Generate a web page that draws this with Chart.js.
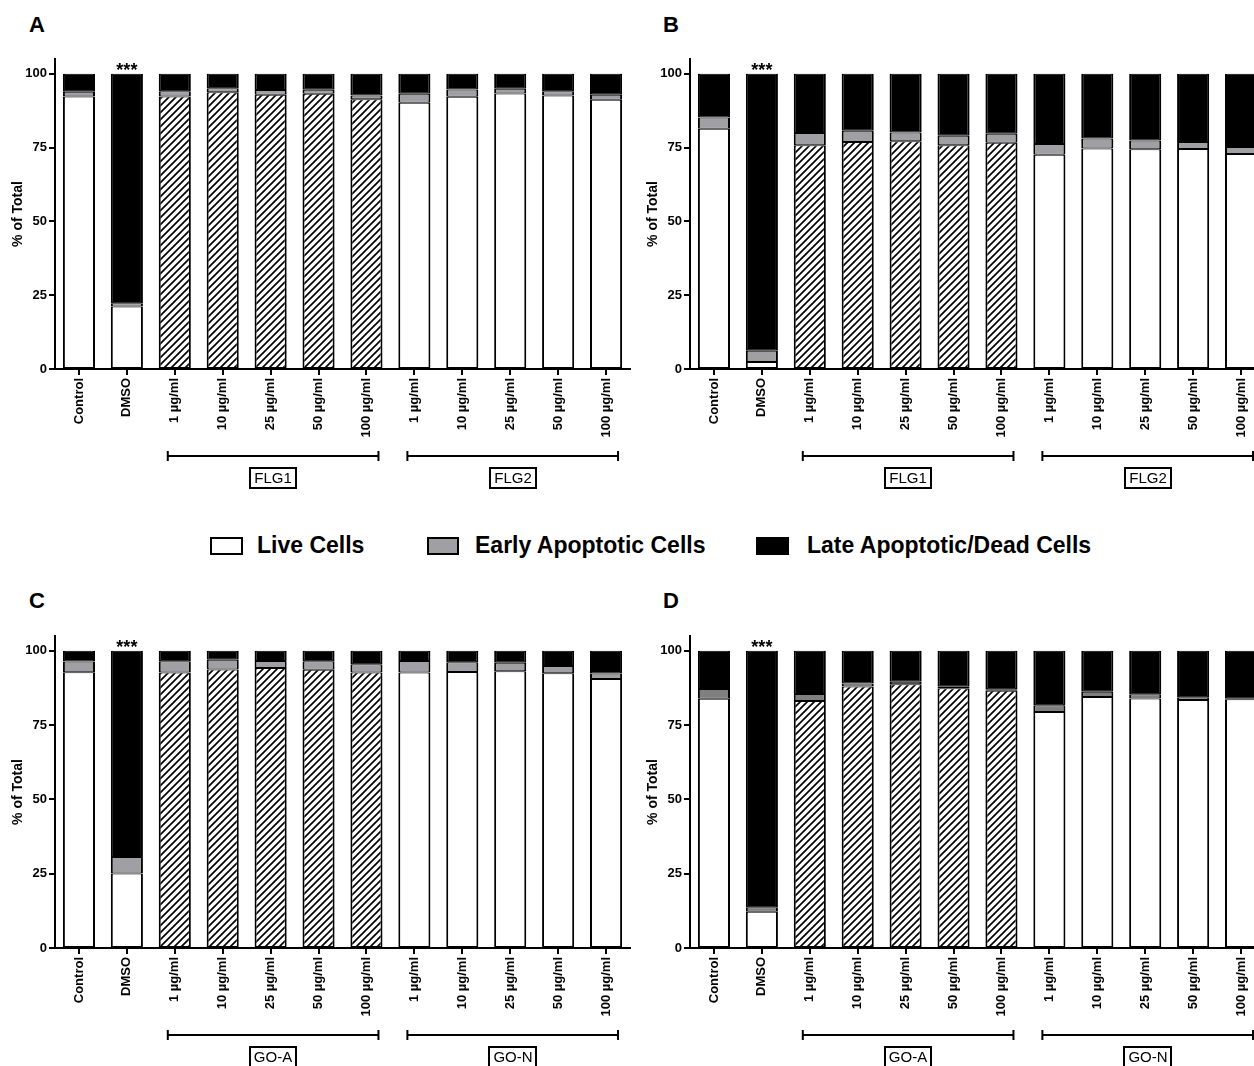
<!DOCTYPE html>
<html>
<head>
<meta charset="utf-8">
<script src="https://cdn.jsdelivr.net/npm/chart.js@4.4.1/dist/chart.umd.min.js"></script>
<style>
  html, body { margin: 0; padding: 0; background: #fff; }
  #page { position: relative; width: 1254px; height: 1066px; overflow: hidden;
          font-family: "Liberation Sans", Arial, sans-serif; color: #000; }
  #page canvas { position: absolute; }
  .letter { position: absolute; font-weight: bold; font-size: 22px; line-height: 22px; }
  .swatch { position: absolute; box-sizing: border-box; border: 2px solid #000; height: 18px; }
  .legend-text { position: absolute; font-weight: bold; font-size: 23px; line-height: 23px; white-space: nowrap; }
</style>
</head>
<body>
<div id="page">
  <div class="letter" style="left:29px; top:14px;">A</div>
  <div class="letter" style="left:663px; top:14px;">B</div>
  <div class="letter" style="left:29px; top:590px;">C</div>
  <div class="letter" style="left:663px; top:590px;">D</div>

  <div class="swatch" style="left:210px; top:537px; width:33px; background:#fff;"></div>
  <div class="legend-text" style="left:257px; top:534px;">Live Cells</div>
  <div class="swatch" style="left:427px; top:537px; width:32px; background:#a0a0a4;"></div>
  <div class="legend-text" style="left:475px; top:534px;">Early Apoptotic Cells</div>
  <div class="swatch" style="left:756px; top:537px; width:33px; background:#000;"></div>
  <div class="legend-text" style="left:807px; top:534px;">Late Apoptotic/Dead Cells</div>

  <canvas id="chartA" width="640" height="500" style="left:0px; top:0px;"></canvas>
  <canvas id="chartB" width="640" height="500" style="left:640px; top:0px;"></canvas>
  <canvas id="chartC" width="640" height="491" style="left:0px; top:575px;"></canvas>
  <canvas id="chartD" width="640" height="491" style="left:640px; top:575px;"></canvas>
</div>

<script>
// Treatment categories shared by all four panels
const categories = ['Control', 'DMSO',
  '1 µg/ml', '10 µg/ml', '25 µg/ml', '50 µg/ml', '100 µg/ml',
  '1 µg/ml', '10 µg/ml', '25 µg/ml', '50 µg/ml', '100 µg/ml'];
const hatchedIndices = [2, 3, 4, 5, 6];
const yTicks = [0, 25, 50, 75, 100];
const grapheneGroups = ['FLG1', 'FLG2'];
const oxideGroups = ['GO-A', 'GO-N'];
const seriesNames = ['Live Cells', 'Early Apoptotic Cells', 'Late Apoptotic/Dead Cells'];

// Panel A (% of total)
const liveA  = [92.3, 21.2, 92.3, 93.7, 92.9, 93.2, 91.4, 90.2, 92.2, 93.3, 92.6, 91.2];
const earlyA = [1.6, 1.1, 1.8, 1.4, 1.6, 1.4, 1.2, 3.0, 2.5, 1.6, 1.5, 1.7];
const lateA  = [6.1, 77.7, 5.9, 4.9, 5.5, 5.4, 7.4, 6.8, 5.3, 5.1, 5.9, 7.1];

// Panel B
const liveB  = [81.4, 2.4, 75.8, 76.9, 77.1, 75.8, 76.6, 72.6, 74.7, 74.4, 74.5, 72.8];
const earlyB = [3.8, 3.8, 4.1, 3.8, 3.0, 3.2, 3.1, 3.6, 3.4, 3.0, 2.4, 2.4];
const lateB  = [14.8, 93.8, 20.1, 19.3, 19.9, 21.0, 20.3, 23.8, 21.9, 22.6, 23.1, 24.8];

// Panel C
const liveC  = [92.8, 25.1, 92.7, 93.7, 94.2, 93.6, 92.7, 92.7, 92.9, 93.1, 92.5, 90.5];
const earlyC = [3.6, 5.5, 3.8, 3.3, 2.4, 2.9, 2.8, 3.9, 3.3, 2.9, 2.4, 1.9];
const lateC  = [3.6, 69.4, 3.5, 3.0, 3.4, 3.5, 4.5, 3.4, 3.8, 4.0, 5.1, 7.6];

// Panel D
const liveD  = [83.9, 12.2, 83.1, 88.0, 88.8, 87.4, 86.6, 79.4, 84.5, 84.0, 83.5, 83.7];
const earlyD = [3.3, 1.5, 2.4, 1.0, 0.8, 0.5, 0.5, 2.3, 1.7, 1.4, 0.9, 0.2];
const lateD  = [12.8, 86.3, 14.5, 11.0, 10.4, 12.1, 12.9, 18.3, 13.8, 14.6, 15.6, 16.1];

const FONT = '"Liberation Sans", Arial, sans-serif';
Chart.defaults.font.family = FONT;
Chart.defaults.color = '#000';

// Diagonal "/" hatch used for the first nanomaterial group
function makeHatch() {
  const s = 7;
  const c = document.createElement('canvas');
  c.width = s; c.height = s;
  const g = c.getContext('2d');
  g.fillStyle = '#fff';
  g.fillRect(0, 0, s, s);
  g.strokeStyle = '#000';
  g.lineWidth = 1.7;
  g.beginPath();
  g.moveTo(-1, s + 1); g.lineTo(s + 1, -1);
  g.moveTo(-1, 1); g.lineTo(1, -1);
  g.moveTo(s - 1, s + 1); g.lineTo(s + 1, s - 1);
  g.stroke();
  return g.createPattern(c, 'repeat');
}
const hatch = makeHatch();

// Extra drawing: y title, significance stars, group brackets with boxed names
const panelExtras = {
  id: 'panelExtras',
  afterDraw(chart, args, opts) {
    const ctx = chart.ctx;
    const area = chart.chartArea;
    const xs = chart.scales.x, ys = chart.scales.y;
    ctx.save();
    // y-axis title
    ctx.save();
    ctx.translate(area.left - 37, (area.top + area.bottom) / 2);
    ctx.rotate(-Math.PI / 2);
    ctx.font = 'bold 14px ' + FONT;
    ctx.fillStyle = '#000';
    ctx.textAlign = 'center';
    ctx.textBaseline = 'middle';
    ctx.fillText('% of Total', 0, 0);
    ctx.restore();

    // significance stars
    ctx.font = 'bold 18px ' + FONT;
    ctx.textAlign = 'center';
    ctx.textBaseline = 'alphabetic';
    ctx.fillText('***', xs.getPixelForValue(opts.starIndex), ys.getPixelForValue(100) + 2);

    // group brackets
    const by = area.bottom + 87;
    opts.groups.forEach((g) => {
      const x0 = xs.getPixelForValue(g.from) - 7;
      const x1 = xs.getPixelForValue(g.to) + 12;
      ctx.strokeStyle = '#000';
      ctx.lineWidth = 2;
      ctx.beginPath();
      ctx.moveTo(x0, by); ctx.lineTo(x1, by);
      ctx.moveTo(x0, by - 5); ctx.lineTo(x0, by + 5);
      ctx.moveTo(x1, by - 5); ctx.lineTo(x1, by + 5);
      ctx.stroke();
      ctx.font = '15px ' + FONT;
      const tw = ctx.measureText(g.name).width;
      const bw = Math.round(tw + 10), bh = 22;
      const cx = Math.round((x0 + x1) / 2);
      const bx = cx - Math.round(bw / 2), btop = by + 11;
      ctx.strokeRect(bx + 1, btop + 1, bw - 2, bh - 2);
      ctx.textAlign = 'center';
      ctx.textBaseline = 'middle';
      ctx.fillText(g.name, cx, btop + bh / 2 + 1);
    });
    ctx.restore();
  }
};

function buildPanel(id, live, early, late, grayColor, groupNames, layout) {
  const liveFill = categories.map((_, i) => hatchedIndices.includes(i) ? hatch : '#ffffff');
  const segBorder = { top: 1, bottom: 1, left: 2, right: 2 };
  const common = { borderColor: '#000', borderWidth: segBorder, borderSkipped: false,
                   barPercentage: 0.67, categoryPercentage: 1.0 };
  return new Chart(document.getElementById(id), {
    type: 'bar',
    data: {
      labels: categories,
      datasets: [
        Object.assign({ label: seriesNames[0], data: live, backgroundColor: liveFill }, common),
        Object.assign({ label: seriesNames[1], data: early, backgroundColor: grayColor }, common),
        Object.assign({ label: seriesNames[2], data: late, backgroundColor: '#000' }, common)
      ]
    },
    options: {
      responsive: false,
      animation: false,
      devicePixelRatio: 1,
      layout: { padding: { top: layout.top, right: layout.right, bottom: layout.bottom, left: 0 } },
      plugins: {
        legend: { display: false },
        tooltip: { enabled: false },
        panelExtras: {
          starIndex: 1,
          groups: [
            { name: groupNames[0], from: 2, to: 6 },
            { name: groupNames[1], from: 7, to: 11 }
          ]
        }
      },
      scales: {
        x: {
          stacked: true,
          offset: true,
          grid: { display: true, drawOnChartArea: false, drawTicks: true, tickLength: 6,
                  color: '#000', lineWidth: 2, offset: false },
          border: { display: true, color: '#000', width: 2 },
          ticks: { autoSkip: false, maxRotation: 90, minRotation: 90, padding: 3,
                   font: { size: 13, weight: 'bold' }, color: '#000' },
          afterFit(scale) { scale.height = 80; }
        },
        y: {
          stacked: true,
          min: 0,
          max: 105,
          afterBuildTicks(scale) { scale.ticks = yTicks.map(v => ({ value: v })); },
          grid: { display: true, drawOnChartArea: false, drawTicks: true, tickLength: 6,
                  color: '#000', lineWidth: 2 },
          border: { display: true, color: '#000', width: 2 },
          ticks: { padding: 2, font: { size: 13, weight: 'bold' }, color: '#000' },
          afterFit(scale) { scale.width = layout.axisW; }
        }
      }
    },
    plugins: [panelExtras]
  });
}

buildPanel('chartA', liveA, earlyA, lateA, '#a0a0a4', grapheneGroups,
  { top: 59, right: 10, bottom: 51, axisW: 55 });
buildPanel('chartB', liveB, earlyB, lateB, '#a0a0a4', grapheneGroups,
  { top: 59, right: 15, bottom: 51, axisW: 50 });
buildPanel('chartC', liveC, earlyC, lateC, '#a0a0a4', oxideGroups,
  { top: 61, right: 10, bottom: 38, axisW: 55 });
buildPanel('chartD', liveD, earlyD, lateD, '#7f7f7f', oxideGroups,
  { top: 61, right: 15, bottom: 38, axisW: 50 });
</script>
</body>
</html>
